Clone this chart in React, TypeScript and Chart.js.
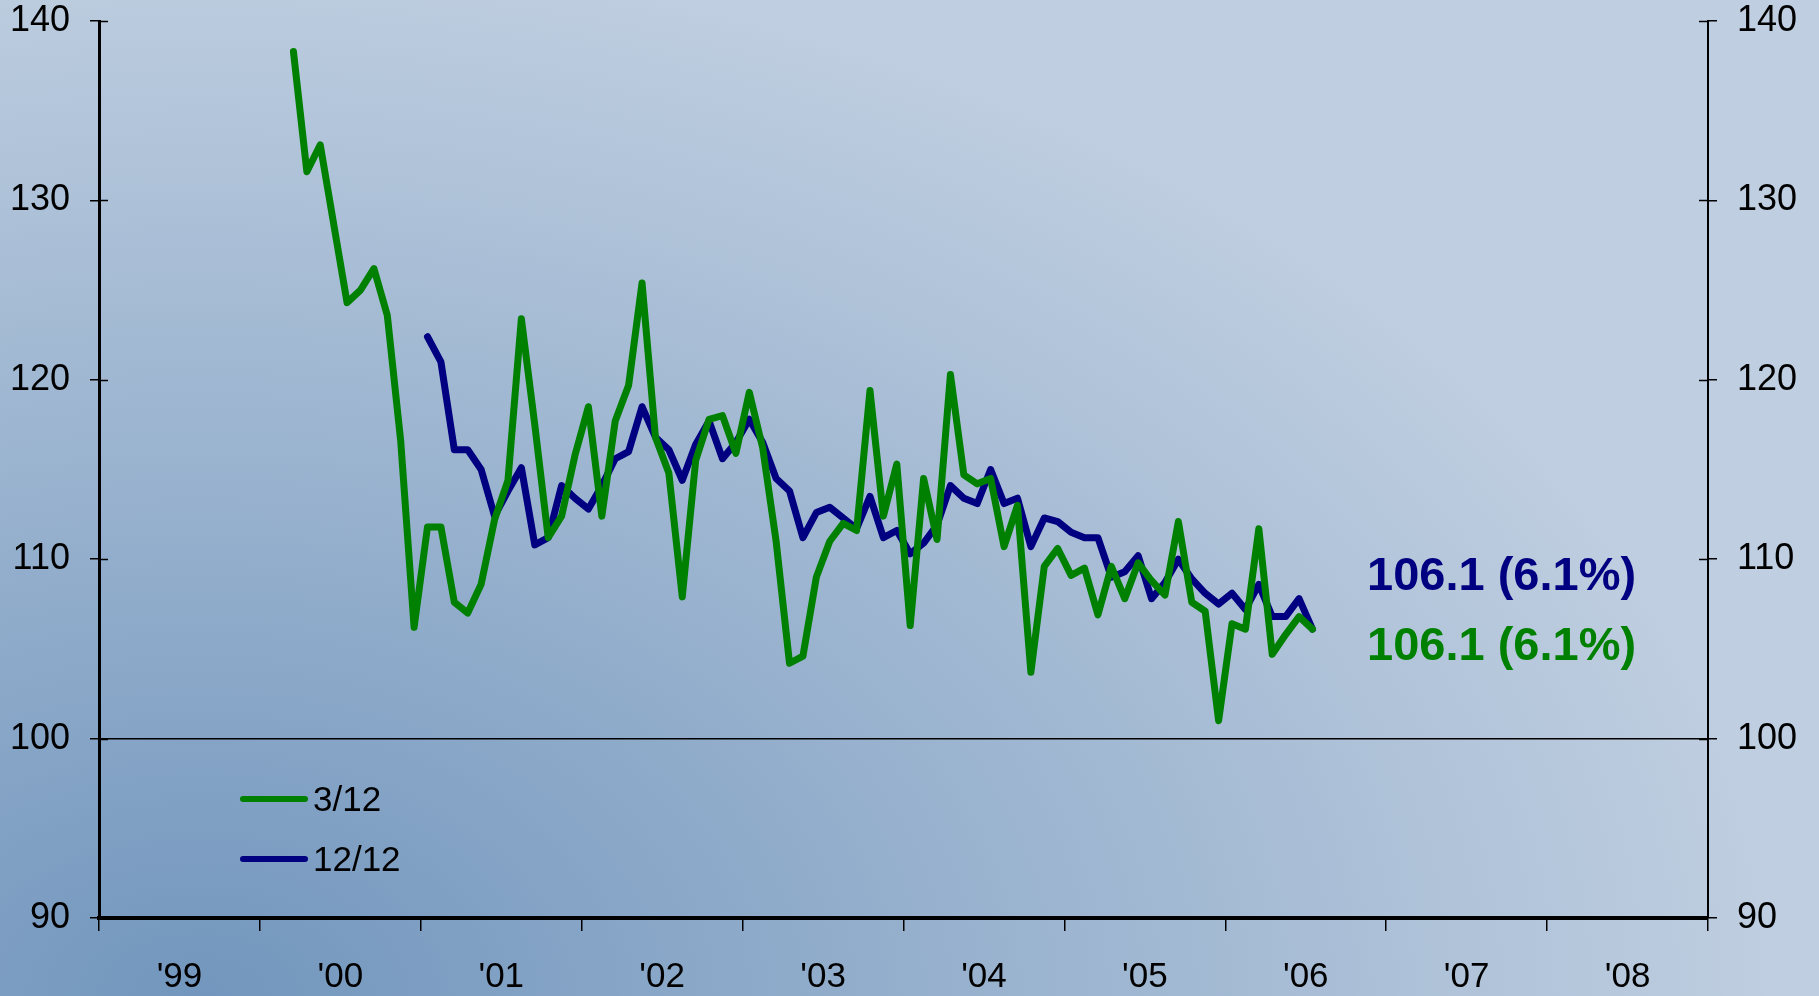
import React, { useEffect, useRef } from 'react';
import { Chart, registerables } from 'chart.js';

Chart.register(...registerables);

// ---------- data ----------
const FIRST_YEAR = 1999;
const YEAR_LABELS = ["'99", "'00", "'01", "'02", "'03", "'04", "'05", "'06", "'07", "'08"];
const Y_TICKS = [90, 100, 110, 120, 130, 140];

const SERIES_A_LABEL = '3/12';
const SERIES_A_START = { year: 2000, month: 3 };
const SERIES_A = [
  138.3, 131.6, 133.1, 128.7, 124.3, 125.0, 126.2, 123.6, 116.6, 106.2,
  111.8, 111.8, 107.6, 107.0, 108.6, 112.2, 114.4, 123.4, 117.5, 111.2,
  112.4, 115.8, 118.5, 112.4, 117.7, 119.7, 125.4, 116.8, 114.8, 107.9,
  115.5, 117.8, 118.0, 115.9, 119.3, 116.2, 111.0, 104.2, 104.6, 109.0,
  111.0, 112.0, 111.6, 119.4, 112.4, 115.3, 106.3, 114.5, 111.1, 120.3,
  114.7, 114.2, 114.5, 110.7, 113.0, 103.7, 109.6, 110.6, 109.1, 109.5,
  106.9, 109.6, 107.8, 109.8, 108.8, 108.0, 112.1, 107.6, 107.1, 101.0,
  106.4, 106.1, 111.7, 104.7, 105.8, 106.8, 106.1,
];

const SERIES_B_LABEL = '12/12';
const SERIES_B_START = { year: 2001, month: 1 };
const SERIES_B = [
  122.4, 121.0, 116.1, 116.1, 115.0, 112.4, 113.8, 115.1, 110.8, 111.2,
  114.1, 113.4, 112.8, 114.1, 115.6, 116.0, 118.5, 116.8, 116.1, 114.4,
  116.4, 117.7, 115.6, 116.5, 117.8, 116.5, 114.5, 113.8, 111.2, 112.6,
  112.9, 112.3, 111.7, 113.5, 111.2, 111.6, 110.3, 110.9, 111.9, 114.1,
  113.4, 113.1, 115.0, 113.1, 113.4, 110.7, 112.3, 112.1, 111.5, 111.2,
  111.2, 109.0, 109.3, 110.2, 107.8, 108.7, 110.0, 108.9, 108.1, 107.5,
  108.1, 107.2, 108.6, 106.8, 106.8, 107.8, 106.1,
];

const GREEN = '#008000';
const NAVY = '#000080';
const FONT = "'Liberation Sans', Arial, sans-serif";
const W = 1819;
const H = 996;

function toPoints(start: { year: number; month: number }, values: number[]) {
  const base = (start.year - FIRST_YEAR) * 12 + (start.month - 1);
  return values.map((v, k) => ({ x: base + k + 0.5, y: v }));
}

const backgroundPlugin = {
  id: 'bg',
  beforeDraw(chart: any) {
    const ctx = chart.ctx;
    const cx = 200, cy = 1000, sx = 1.5;
    ctx.save();
    ctx.translate(cx, cy);
    ctx.scale(sx, 1);
    const g = ctx.createRadialGradient(0, 0, 0, 0, 0, 1050);
    g.addColorStop(0, '#7296bd');
    g.addColorStop(1, '#bfcee0');
    ctx.fillStyle = g;
    ctx.fillRect(-cx / sx - 5, -cy - 5, chart.width / sx + 10, chart.height + 10);
    ctx.restore();
  },
};

const innerTicksPlugin = {
  id: 'innerTicks',
  afterDraw(chart: any) {
    const ctx = chart.ctx;
    ctx.save();
    ctx.strokeStyle = '#000';
    ctx.lineWidth = 1.5;
    const yl = chart.scales.y;
    const yr = chart.scales.y2;
    yl.ticks.forEach((t: any) => {
      const py = Math.round(yl.getPixelForValue(t.value)) + 0.5;
      ctx.beginPath();
      ctx.moveTo(yl.right, py);
      ctx.lineTo(yl.right + 9, py);
      ctx.stroke();
    });
    yr.ticks.forEach((t: any) => {
      const py = Math.round(yr.getPixelForValue(t.value)) + 0.5;
      ctx.beginPath();
      ctx.moveTo(yr.left, py);
      ctx.lineTo(yr.left - 9, py);
      ctx.stroke();
    });
    ctx.restore();
  },
};

const legendPlugin = {
  id: 'customLegend',
  afterDraw(chart: any) {
    const ctx = chart.ctx;
    ctx.save();
    chart.data.datasets.forEach((ds: any, k: number) => {
      const y = 799 + k * 60;
      ctx.strokeStyle = ds.borderColor;
      ctx.lineWidth = 6;
      ctx.lineCap = 'round';
      ctx.beginPath();
      ctx.moveTo(243, y);
      ctx.lineTo(305, y);
      ctx.stroke();
      ctx.fillStyle = '#000';
      ctx.font = `35px ${FONT}`;
      ctx.textBaseline = 'middle';
      ctx.textAlign = 'left';
      ctx.fillText(ds.label, 313, y + 2);
    });
    ctx.restore();
  },
};

const endLabelPlugin = {
  id: 'endLabels',
  afterDraw(chart: any) {
    const ctx = chart.ctx;
    ctx.save();
    ctx.font = `bold 47px ${FONT}`;
    ctx.textAlign = 'left';
    ctx.textBaseline = 'alphabetic';
    const order = [1, 0];
    order.forEach((di, row) => {
      const ds = chart.data.datasets[di];
      const last = ds.data[ds.data.length - 1].y;
      const txt = `${last.toFixed(1)} (${(last - 100).toFixed(1)}%)`;
      ctx.fillStyle = ds.borderColor;
      ctx.fillText(txt, 1367, 590 + row * 70);
    });
    ctx.restore();
  },
};

function fixVertical(width: number) {
  return (s: any) => {
    s.width = width;
    s.paddingTop = 0;
    s.paddingBottom = 0;
  };
}

export default function App() {
  const ref = useRef<HTMLCanvasElement | null>(null);

  useEffect(() => {
    document.body.style.margin = '0';
    const canvas = ref.current;
    if (!canvas) return;
    const yearTicks = YEAR_LABELS.map((_, k) => ({ value: k * 12 + 6 }));
    const chart = new Chart(canvas, {
      type: 'line',
      data: {
        datasets: [
          {
            label: SERIES_A_LABEL,
            data: toPoints(SERIES_A_START, SERIES_A),
            borderColor: GREEN,
            backgroundColor: GREEN,
            borderWidth: 7,
            pointRadius: 0,
            tension: 0,
            borderJoinStyle: 'round',
            borderCapStyle: 'round',
          },
          {
            label: SERIES_B_LABEL,
            data: toPoints(SERIES_B_START, SERIES_B),
            borderColor: NAVY,
            backgroundColor: NAVY,
            borderWidth: 7,
            pointRadius: 0,
            tension: 0,
            borderJoinStyle: 'round',
            borderCapStyle: 'round',
          },
        ],
      },
      options: {
        animation: false,
        responsive: false,
        devicePixelRatio: 1,
        layout: { padding: { top: 21, left: 0, right: 0, bottom: 0 } },
        plugins: { legend: { display: false }, tooltip: { enabled: false } },
        scales: {
          x: {
            type: 'linear',
            position: 'bottom',
            weight: 0,
            min: 0,
            max: YEAR_LABELS.length * 12,
            afterBuildTicks: (s: any) => {
              s.ticks = YEAR_LABELS.map((_, k) => ({ value: k * 12 })).concat([{ value: YEAR_LABELS.length * 12 }]);
            },
            ticks: { display: false },
            grid: { drawOnChartArea: false, drawTicks: true, tickLength: 13, color: '#000', lineWidth: 1.5 },
            border: { display: true, color: '#000', width: 4 },
            afterFit: (s: any) => { s.height = 14; s.paddingLeft = 0; s.paddingRight = 0; },
          },
          x2: {
            type: 'linear',
            position: 'bottom',
            weight: 1,
            min: 0,
            max: YEAR_LABELS.length * 12,
            afterBuildTicks: (s: any) => { s.ticks = yearTicks.map((t) => ({ ...t })); },
            ticks: {
              autoSkip: false,
              maxRotation: 0,
              padding: 24,
              color: '#000',
              font: { family: FONT, size: 35 },
              callback: (v: any) => YEAR_LABELS[Math.round((Number(v) - 6) / 12)],
            },
            grid: { display: false, drawTicks: false },
            border: { display: false },
            afterFit: (s: any) => { s.height = 64; s.paddingLeft = 0; s.paddingRight = 0; },
          },
          y: {
            type: 'linear',
            position: 'left',
            min: 90,
            max: 140,
            afterBuildTicks: (s: any) => { s.ticks = Y_TICKS.map((v) => ({ value: v })); },
            ticks: { padding: 20, color: '#000', font: { family: FONT, size: 36 } },
            grid: {
              drawOnChartArea: true,
              drawTicks: true,
              tickLength: 9,
              tickColor: '#000',
              lineWidth: 1.5,
              color: (c: any) => (c.tick && c.tick.value === 100 ? '#000' : 'rgba(0,0,0,0)'),
            },
            border: { display: true, color: '#000', width: 3 },
            afterFit: fixVertical(99),
          },
          y2: {
            type: 'linear',
            position: 'right',
            min: 90,
            max: 140,
            afterBuildTicks: (s: any) => { s.ticks = Y_TICKS.map((v) => ({ value: v })); },
            ticks: { padding: 20, color: '#000', font: { family: FONT, size: 36 } },
            grid: { drawOnChartArea: false, drawTicks: true, tickLength: 9, color: '#000', lineWidth: 1.5 },
            border: { display: true, color: '#000', width: 2 },
            afterFit: fixVertical(111),
          },
        },
      },
      plugins: [backgroundPlugin, innerTicksPlugin, legendPlugin, endLabelPlugin],
    } as any);
    return () => chart.destroy();
  }, []);

  return (
    <div style={{ width: W, height: H }}>
      <canvas ref={ref} width={W} height={H} style={{ display: 'block', width: W, height: H }} />
    </div>
  );
}
